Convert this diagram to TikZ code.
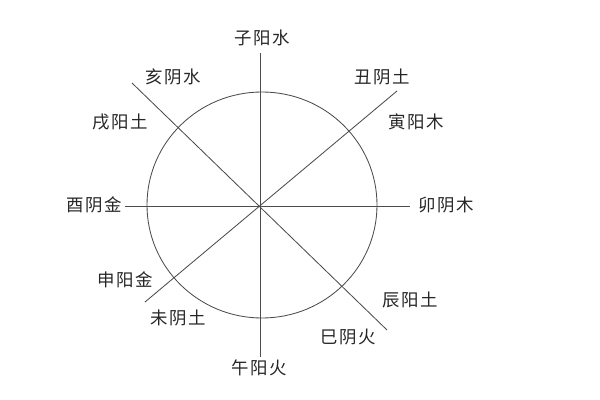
\documentclass[tikz,border=0pt]{standalone}
\usepackage{fontspec}
\newfontfamily\cjk[LetterSpace=8]{Noto Sans CJK SC}
\usetikzlibrary{positioning}
\tikzstyle{branch} = [font=\cjk\fontsize{12.4}{14}\selectfont, inner sep=1pt,
    text=black!85]
\tikzstyle{line} = [draw, black!70, line width=0.6pt]

\begin{document}
\begin{tikzpicture}[x=0.025cm, y=-0.025cm]
        \useasboundingbox (0,0) rectangle (600,400);

        % Place nodes
        \node [branch] (zi)   at (262,38)  {子阳水};
        \node [branch] (hai)  at (173,77)  {亥阴水};
        \node [branch] (chou) at (382,77)  {丑阴土};
        \node [branch] (xu)   at (120,122) {戌阳土};
        \node [branch] (yin)  at (416,122) {寅阳木};
        \node [branch] (you)  at (94,205)  {酉阴金};
        \node [branch] (mao)  at (446,205) {卯阴木};
        \node [branch] (shen) at (125,280) {申阳金};
        \node [branch] (wei)  at (178,318) {未阴土};
        \node [branch] (chen) at (410,300) {辰阳土};
        \node [branch] (si)   at (348,337) {巳阴火};
        \node [branch] (wu)   at (259,368) {午阳火};

        % Line ends
        \coordinate (north) at (260,53);
        \coordinate (south) at (260,357);
        \coordinate (west)  at (125,206);
        \coordinate (east)  at (410,206);
        \coordinate (nw)    at (132,83);
        \coordinate (se)    at (387,330);
        \coordinate (ne)    at (397,91);
        \coordinate (sw)    at (145,302);
        \coordinate (hub)   at (262,205);

        % Draw circle and edges
        \path [line] (hub) ellipse [x radius=115, y radius=113];
        \path [line] (north) -- (south);
        \path [line] (west) -- (east);
        \path [line] (nw) -- (se);
        \path [line] (ne) -- (sw);

    \end{tikzpicture}
\end{document}
